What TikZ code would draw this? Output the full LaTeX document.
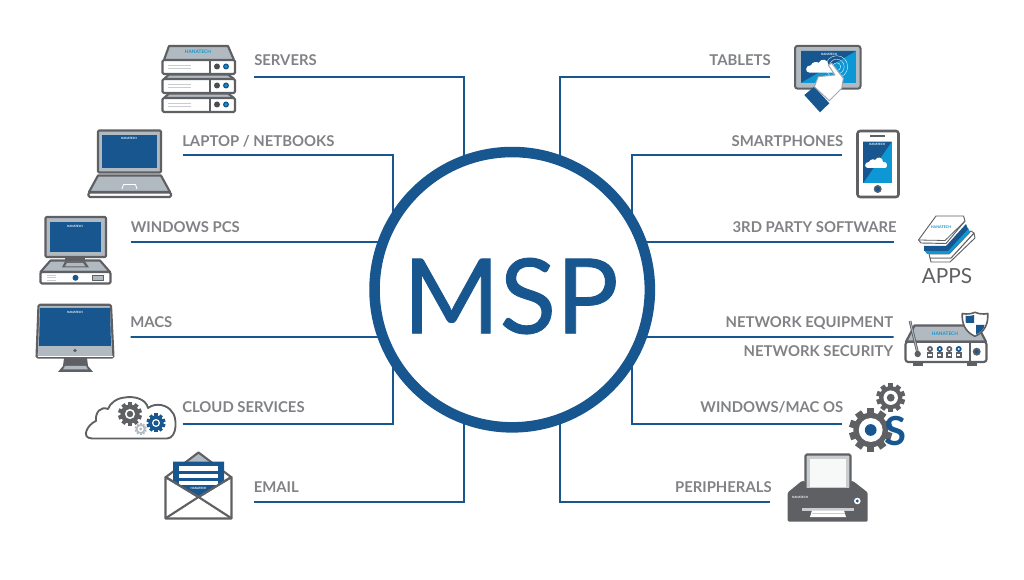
\documentclass[tikz,border=0pt]{standalone}
\usepackage{fontspec}
\usetikzlibrary{calc}
\setmainfont{Lato}
\newfontfamily\mspfont[FakeBold=0.8]{Lato}
\definecolor{mblue}{HTML}{17568F}
\definecolor{lblue}{HTML}{0E97D5}
\definecolor{dgray}{HTML}{5F6063}
\definecolor{mgray}{HTML}{B2BAC1}
\definecolor{tgray}{HTML}{808285}
\definecolor{pale}{HTML}{C9CDD0}
\tikzset{
  conn/.style={draw=mblue,line width=1.35pt},
  lab/.style={text=tgray,font=\bfseries\fontsize{11.15}{13}\selectfont,inner sep=0pt},
  labl/.style={lab,anchor=base west},
  labr/.style={lab,anchor=base east},
  hub/.style={circle,draw=mblue,fill=white,line width=7.9pt,minimum size=206.5pt,inner sep=0pt,outer sep=0pt,text=mblue},
  ol/.style={draw=dgray,line width=1.6pt,line join=round},
  olt/.style={draw=dgray,line width=1.1pt,line join=round},
  logo/.style={text=white,font=\bfseries\fontsize{2.2}{3}\selectfont,inner sep=0pt},
  logob/.style={text=lblue,font=\bfseries\fontsize{3.6}{4}\selectfont,inner sep=0pt},
  rule/.style={draw=pale,line width=.6pt}
}
\newcommand\srvunit[2]{% top of lid, top of body
  \fill[mgray] (164,#2) -- (169,#1) -- (228,#1) -- (234,#2) -- cycle;
  \draw[ol] (164,#2) -- (169,#1) -- (228,#1) -- (234,#2);
  \draw[ol,fill=white,rounded corners=1pt] (162.5,#2) rectangle (235,{#2+14});
  \draw[olt] (210,#2) -- (210,{#2+14});
  \draw[rule] (168,{#2+5}) -- (191,{#2+5});
  \draw[rule] (168,{#2+8}) -- (191,{#2+8});
  \fill[dgray!80!black] (217,{#2+6.5}) circle (3);
  \fill[mblue] (226,{#2+6.5}) circle (3);
  \fill[lblue] (226,{#2+6.5}) circle (1.6);
}
\newcommand\gearicon[6]{% x,y,r,colour,hole radius factor,dot
  \begin{scope}[shift={(#1,#2)}]
    \foreach \a in {0,36,...,324}{
      \fill[#4,rotate=\a] ({-.17*#3},{-#3}) rectangle ({.17*#3},{-.7*#3});
    }
    \fill[#4] (0,0) circle ({.8*#3});
    \fill[white] (0,0) circle ({#5*#3});
    \fill[#6] (0,0) circle ({.27*#3});
  \end{scope}
}
\newcommand\smallcloud[3]{% x,y,scale
  \fill[white,shift={(#1,#2)},scale=#3] (-9,5) .. controls (-13,5) and (-13,-1) .. (-8,-1)
    .. controls (-7,-4) and (-3,-4) .. (-2,-3) .. controls (0,-7) and (6,-6) .. (6,-1)
    .. controls (11,-2) and (11,5) .. (8,5) -- cycle;
}
\begin{document}
\begin{tikzpicture}[x=0.75pt,y=-0.75pt]
\useasboundingbox (0,0) rectangle (1024,580);

% hub
\node[hub] (msp) at (512.2,289.7) {};
\node[text=mblue,font=\mspfont\fontsize{78}{80}\selectfont,inner sep=0pt,anchor=base] (msptext) at (510.8,333.3) {MSP};

% line ends
\coordinate (e1) at (254,77);
\coordinate (e2) at (182.5,155);
\coordinate (e3) at (130.5,241.7);
\coordinate (e4) at (130.5,337);
\coordinate (e5) at (182.5,424);
\coordinate (e6) at (254,502);
\coordinate (e7) at (770,77);
\coordinate (e8) at (841.5,155);
\coordinate (e9) at (893.5,241.7);
\coordinate (e10) at (893.5,337);
\coordinate (e11) at (841.5,424);
\coordinate (e12) at (770,502);
% points on the hub's ring
\coordinate (j1) at ($(msp.center)+(-48.5,-128.9)$);
\coordinate (j2) at ($(msp.center)+(-119.5,-68.4)$);
\coordinate (j3) at ($(msp.center)+(-129,-48)$);
\coordinate (j4) at ($(msp.center)+(-129,47.3)$);
\coordinate (j5) at ($(msp.center)+(-119.5,68.4)$);
\coordinate (j6) at ($(msp.center)+(-48.5,128.9)$);
\coordinate (j7) at ($(msp.center)+(48.1,-128.9)$);
\coordinate (j8) at ($(msp.center)+(120.1,-68.4)$);
\coordinate (j9) at ($(msp.center)+(129,-48)$);
\coordinate (j10) at ($(msp.center)+(129,47.3)$);
\coordinate (j11) at ($(msp.center)+(120.1,68.4)$);
\coordinate (j12) at ($(msp.center)+(48.1,128.9)$);

\draw[conn] (e1) -| (j1);
\draw[conn] (e2) -| (j2);
\draw[conn] (e3) -- (j3);
\draw[conn] (e4) -- (j4);
\draw[conn] (e5) -| (j5);
\draw[conn] (e6) -| (j6);
\draw[conn] (e7) -| (j7);
\draw[conn] (e8) -| (j8);
\draw[conn] (e9) -- (j9);
\draw[conn] (e10) -- (j10);
\draw[conn] (e11) -| (j11);
\draw[conn] (e12) -| (j12);

% labels
\node[labl] (l1) at (254,65.6) {SERVERS};
\node[labl] (l2) at (182,146.3) {LAPTOP / NETBOOKS};
\node[labl] (l3) at (130.5,232.3) {WINDOWS PCS};
\node[labl] (l4) at (130,327.3) {MACS};
\node[labl] (l5) at (182,412.3) {CLOUD SERVICES};
\node[labl] (l6) at (253.5,492.3) {EMAIL};
\node[labr] (r1) at (771,65.6) {TABLETS};
\node[labr] (r2) at (843.5,146.3) {SMARTPHONES};
\node[labr] (r3) at (897,232.3) {3RD PARTY SOFTWARE};
\node[labr] (r4) at (893.5,327.6) {NETWORK EQUIPMENT};
\node[labr] (r4b) at (893.5,356.3) {NETWORK SECURITY};
\node[labr] (r5) at (843.5,412.6) {WINDOWS/MAC OS};
\node[labr] (r6) at (772,492.6) {PERIPHERALS};
\node[text=dgray,font=\fontsize{15.6}{17}\selectfont,inner sep=0pt,anchor=base] (apps) at (947,283.5) {APPS};

% servers
\srvunit{46}{60}
\srvunit{74.5}{79}
\srvunit{93.5}{98}
\node[logob] at (198,52) {HANATECH};

% laptop
\draw[ol,fill=mgray,rounded corners=.8pt] (98,130.5) rectangle (161,172.5);
\fill[mblue] (102,135) rectangle (157,168);
\node[logo] at (129,138.5) {HANATECH};
\draw[ol,fill=mgray] (98,175.5) -- (161,175.5) -- (170,192) -- (89,192) -- cycle;
\draw[ol,fill=white,rounded corners=1pt] (88.5,192.5) rectangle (171,197);
\draw[white,line width=.6pt] (122,189) -- (123.5,184.5) -- (135.5,184.5) -- (137,189);

% windows pc
\draw[ol,fill=mgray,rounded corners=.8pt] (45.5,217) rectangle (106,257);
\fill[mblue] (50,221.7) rectangle (100.5,251.7);
\node[logo] at (75,226.5) {HANATECH};
\fill[dgray] (65,257) rectangle (85,262);
\draw[ol,fill=mgray] (50.5,260.5) -- (100,260.5) -- (110,272) -- (40.5,272) -- cycle;
\fill[dgray] (62,267.5) -- (65,261.5) -- (85,261.5) -- (89,267.5) -- cycle;
\fill[mgray] (65,266.3) -- (67,263) -- (83,263) -- (85.5,266.3) -- cycle;
\draw[ol,fill=white,rounded corners=1pt] (40.5,272) rectangle (110.5,283.5);
\draw[rule] (47,275) -- (56,275) (47,277.5) -- (56,277.5) (47,280) -- (56,280);
\fill[mblue] (75.5,277.8) circle (3);
\draw[olt,fill=mgray,line width=.6pt] (92.5,275) rectangle (103.5,280.5);

% mac
\fill[dgray] (64,358) -- (87,358) -- (88,366) -- (93,372) -- (58,372) -- (63,366) -- cycle;
\fill[mgray] (63,369.5) -- (65,366) -- (86,366) -- (88,369.5) -- cycle;
\draw[ol,fill=mgray,rounded corners=1pt] (38.5,304.8) -- (111,304.8) -- (113.5,357.5) -- (36.5,357.5) -- cycle;
\fill[mblue] (40,308) -- (110,308) -- (111,346) -- (39,346) -- cycle;
\draw[white,line width=.5pt] (37.5,356) -- (112.5,356);
\fill[dgray] (75,350.5) circle (1.8);
\node[logo] at (75,312) {HANATECH};

% cloud services
\draw[draw=dgray,line width=1.4pt,fill=white,line join=round]
  (92,438.5) -- (167,438.5) .. controls (178,438) and (177,416) .. (172,412)
  .. controls (168,405) and (156,402) .. (148,408)
  .. controls (146,398) and (132,396) .. (125,397.5)
  .. controls (117,398) and (110,403) .. (108,409)
  .. controls (101,406) and (95,412) .. (96,421)
  .. controls (88,424) and (80,438) .. (92,438.5) -- cycle;
\gearicon{130}{414}{12}{dgray}{.42}{dgray}
\gearicon{140.7}{429}{6}{mgray}{.5}{mgray}
\gearicon{156}{423}{9.5}{mblue}{.42}{mblue}

% email
\fill[mgray] (180,466) -- (198.5,452) -- (217,466) -- cycle;
\draw[ol] (166,477) -- (198.5,452.5) -- (231,477);
\draw[ol,fill=white,line join=round] (165.5,477) -- (198.5,497) -- (231.5,477) -- (231.5,518.5) -- (165.5,518.5) -- cycle;
\fill[mblue] (173,461.7) -- (224,461.7) -- (224,482) -- (198.5,497) -- (173,482) -- cycle;
\fill[white] (179,466.5) rectangle (218,471);
\fill[white] (179,474) rectangle (218,478);
\fill[white] (179,481) rectangle (218,484.5);
\node[logo] at (198.5,488) {HANATECH};
\draw[ol] (165.5,477) -- (198.5,497) -- (231.5,477);
\draw[ol] (166,518) -- (198.5,497) -- (231,518);

% tablet
\draw[draw=dgray,line width=1.5pt,fill=mgray,rounded corners=2pt] (795,45.8) rectangle (860.5,88.7);
\fill[lblue] (801,51) rectangle (856,82.7);
\fill[mblue] (801,51) -- (856,51) -- (801,82.7) -- cycle;
\node[logo] at (829,54) {HANATECH};
\smallcloud{821}{66.5}{1.25}
\draw[white,line width=.25pt] (836.7,66.7) circle (4) circle (7.5) circle (11);
\fill[mblue] (804.3,95) -- (814.3,86.7) -- (829.3,103.3) -- (820,112.3) -- cycle;
\draw[draw=mgray!80!dgray,line width=.75pt,fill=white,line join=round] (814.3,86.7) -- (818.3,76.7) -- (835,75) -- (828.3,65) -- (831.7,63.3) -- (843.3,78.3) -- (841.7,88.3) -- (829.3,100.7) -- cycle;

% smartphone
\draw[draw=dgray,line width=1.9pt,fill=white,rounded corners=2pt] (857.5,131) rectangle (898.5,197);
\fill[lblue] (863,141.7) rectangle (891.7,183.3);
\fill[mblue] (863,141.7) -- (891.7,141.7) -- (863,183.3) -- cycle;
\draw[dgray,line width=.8pt] (870,136) -- (885,136);
\smallcloud{877}{163}{1}
\fill[dgray] (877.7,189) circle (4);
\fill[mblue] (877.7,189) circle (2.4);
\node[logo] at (877,144.5) {HANATECH};

% apps
\begin{scope}[line join=round]
\draw[draw=dgray,line width=.7pt,fill=white] (930,258) -- (951,258) -- (974,233) -- (975,238) -- (950,262) -- (931,262) -- cycle;
\draw[draw=dgray,line width=.7pt,fill=white] (929,254) -- (949,254) -- (971,231) -- (974,233) -- (951,258) -- (930,258) -- cycle;
\fill[lblue] (924,250) -- (948,250) -- (968,228) -- (970,232) -- (949,254) -- (927,254) -- cycle;
\fill[mblue] (924,246) -- (946,246) -- (966,224) -- (968,229) -- (948,251) -- (924,251) -- cycle;
\draw[draw=dgray,line width=.7pt,fill=white] (936,216) -- (963.5,216) -- (965,221) -- (946,243.5) -- (921,243) -- (918.5,240) -- cycle;
\draw[draw=dgray,line width=.6pt] (918.5,240) -- (945,240.5) -- (965,221);
\end{scope}
\node[logob,font=\bfseries\fontsize{2.8}{3}\selectfont] at (941,227) {HANATECH};

% router
\fill[dgray] (913,362) rectangle (923,366);
\fill[dgray] (967,362) rectangle (977,366);
\draw[ol,fill=mgray] (914.5,325.5) -- (977.5,325.5) -- (986,341.7) -- (906,341.7) -- cycle;
\draw[ol,fill=white,rounded corners=2pt] (905.5,341.7) rectangle (986.5,362);
\draw[olt] (970,341.7) -- (970,362);
\fill[dgray] (976.7,351.7) circle (4);
\fill[mblue] (976.7,351.7) circle (2);
\foreach \px/\pc in {930/dgray,939.7/mblue,949.3/dgray,958.7/mblue}{
  \fill[dgray] (\px-3,352) rectangle (\px+3,358.5);
  \fill[white] (\px-1.6,354) rectangle (\px+1.6,356);
  \fill[\pc] (\px,349) circle (3);
  \fill[white] (\px,349) circle (1.2);
}
\draw[draw=dgray,line width=2pt] (910,321) -- (917.7,353);
\draw[draw=mgray,line width=.7pt] (910,321) -- (917.7,353);
\fill[dgray] (917.7,354) circle (3.2);
\node[logob] at (945,334) {HANATECH};
% shield
\begin{scope}[line join=round]
\draw[draw=dgray,line width=1.2pt,fill=white] (962.3,313.5) .. controls (967,314.5) and (971,314) .. (975,312.3)
  .. controls (979,314) and (983,314.5) .. (987.7,313.5) .. controls (988.5,323) and (985,332) .. (975,336.3)
  .. controls (965,332) and (961.5,323) .. (962.3,313.5) -- cycle;
\fill[mblue] (965.5,316) .. controls (968,316.3) and (971,316) .. (974,315) -- (974,323) -- (965.8,323) -- cycle;
\fill[mblue] (976,325) -- (984.5,325) .. controls (984,329) and (981,332) .. (976,334.5) -- cycle;
\end{scope}

% OS
\gearicon{870.7}{430}{21.7}{dgray}{.55}{mblue}
\gearicon{890.7}{397.7}{14.5}{dgray}{.5}{dgray}
\node[text=mblue,font=\bfseries\fontsize{30}{32}\selectfont,inner sep=0pt,anchor=base] (oss) at (895.2,445.5) {S};

% printer
\draw[ol,fill=pale,rounded corners=1pt] (805.5,454.5) rectangle (850.5,490);
\fill[white!85!pale] (810,459) rectangle (846,487);
\fill[dgray,rounded corners=1pt] (787.7,492.5) -- (801.7,481) -- (805,481) -- (805,488) -- (850.5,488) -- (850.5,481) -- (853,481) -- (867.7,492.5) -- (867.7,521.7) -- (787.7,521.7) -- cycle;
\fill[pale] (802,507.5) -- (854,507.5) -- (854,510.5) -- (802,510.5) -- cycle;
\fill[white] (812,510.5) -- (844,510.5) -- (846,517) -- (810,517) -- cycle;
\draw[rule] (811.5,513.5) -- (844.5,513.5);
\fill[white] (857.3,501) circle (3.3);
\fill[mblue] (857.3,501) circle (1.6);
\node[logo] at (800,497) {HANATECH};
\end{tikzpicture}
\end{document}
